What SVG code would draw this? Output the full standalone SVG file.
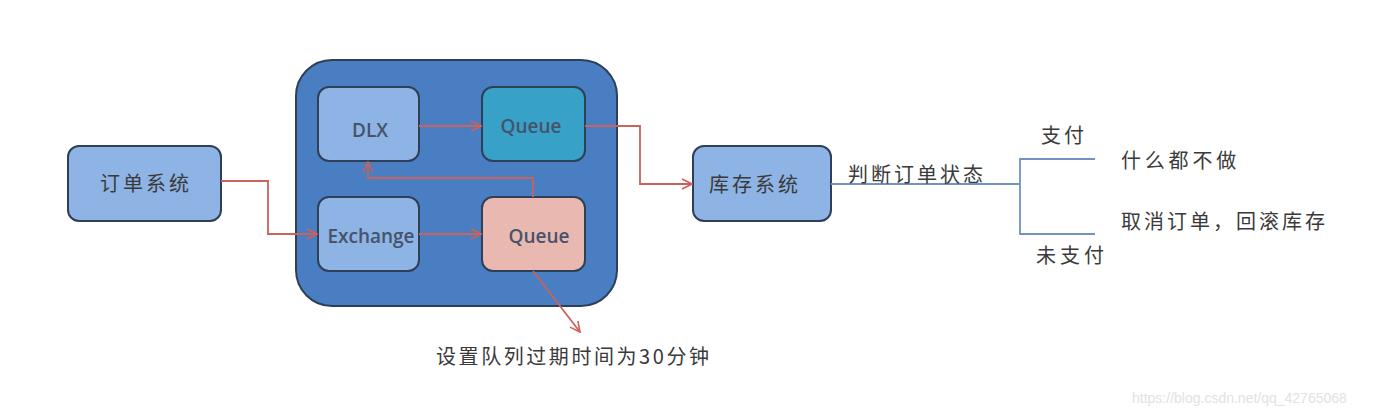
<svg xmlns="http://www.w3.org/2000/svg" width="1384" height="418" viewBox="0 0 1384 418">
<defs>
<marker id="arr" viewBox="0 0 12 12" refX="11" refY="6" markerWidth="12" markerHeight="12" markerUnits="userSpaceOnUse" orient="auto">
<path d="M1,1 L11,6 L1,11" fill="none" stroke="#cd625a" stroke-width="1.6"/>
</marker>
<style>
.box{stroke:#2e3f57;stroke-width:2}
.lt{fill:#8db4e4}
.t{font-family:"Noto Sans CJK SC","Noto Sans",sans-serif;fill:#3a3a3a;font-size:20px;letter-spacing:3px}
.e{font-family:"Open Sans","Noto Sans",sans-serif;fill:#46536a;font-size:19px;font-weight:600}
.c{fill:none;stroke:#cd625a;stroke-width:1.8}
.b{fill:none;stroke:#6f93c4;stroke-width:1.8}
</style>
</defs>
<rect width="1384" height="418" fill="#ffffff"/>
<g id="container"><rect x="296" y="60" width="321" height="246" rx="36" fill="#4a7ec2" class="box"/></g>
<g id="order"><rect x="68" y="146" width="153" height="75" rx="11" class="box lt"/><text x="100" y="191" class="t">订单系统</text></g>
<g id="dlx"><rect x="318" y="87" width="101" height="74" rx="11" class="box lt"/><text x="370" y="137" class="e" text-anchor="middle">DLX</text></g>
<g id="queue1"><rect x="482" y="87" width="103" height="74" rx="11" class="box" fill="#37a1c8"/><text x="531" y="133" class="e" text-anchor="middle">Queue</text></g>
<g id="exchange"><rect x="318" y="197" width="101" height="74" rx="11" class="box lt"/><text x="371" y="243" class="e" text-anchor="middle">Exchange</text></g>
<g id="queue2"><rect x="482" y="197" width="103" height="74" rx="11" class="box" fill="#e9b9b1"/><text x="539" y="243" class="e" text-anchor="middle">Queue</text></g>
<g id="stock"><rect x="693" y="146" width="138" height="75" rx="11" class="box lt"/><text x="709" y="192" class="t">库存系统</text></g>
<g id="connectors">
<path class="c" d="M221,181 H268 V234 H317" marker-end="url(#arr)"/>
<path class="c" d="M419,126 H481" marker-end="url(#arr)"/>
<path class="c" d="M419,234 H481" marker-end="url(#arr)"/>
<path class="c" d="M533,197 V178 H368 V162" marker-end="url(#arr)"/>
<path class="c" d="M585,126 H640 V184 H692" marker-end="url(#arr)"/>
<path class="c" d="M533,271 L580,332" marker-end="url(#arr)"/>
<path class="b" d="M831,184 H1020"/>
<path class="b" d="M1095,159 H1020 V234 H1095"/>
</g>
<g id="labels">
<text x="848" y="182" class="t">判断订单状态</text>
<text x="1041" y="143" class="t">支付</text>
<text x="1121" y="168" class="t" style="letter-spacing:3.8px">什么都不做</text>
<text x="1121" y="229" class="t">取消订单，回滚库存</text>
<text x="1036" y="263" class="t" style="letter-spacing:4px">未支付</text>
<text x="436" y="364" class="t" textLength="276" lengthAdjust="spacing">设置队列过期时间为30分钟</text>
<text x="1132" y="403" font-family="Liberation Sans,sans-serif" font-size="14" fill="#e2e2e2">https://blog.csdn.net/qq_42765068</text>
</g>
</svg>
